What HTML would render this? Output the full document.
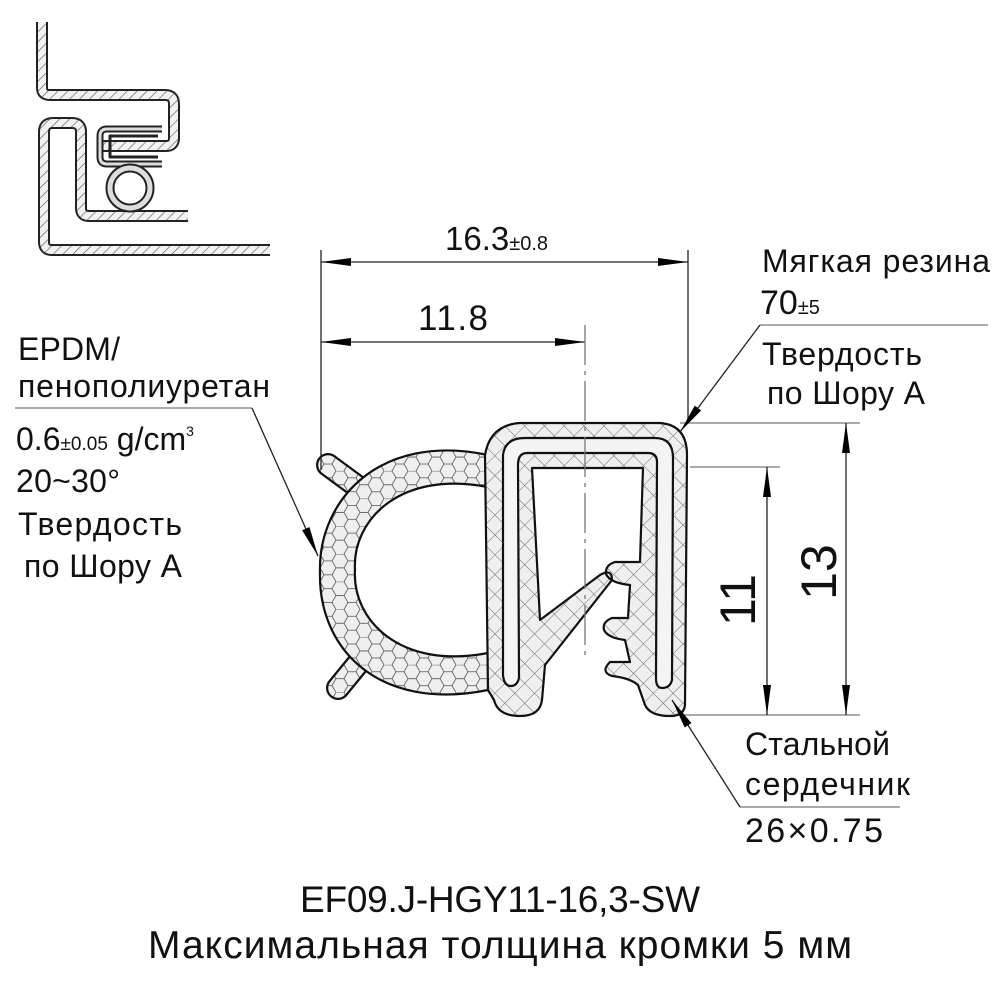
<!DOCTYPE html>
<html><head><meta charset="utf-8"><style>
html,body{margin:0;padding:0;background:#fff;}
svg{display:block;}
text{font-family:"Liberation Sans",sans-serif;fill:#111;}
</style></head><body>
<svg width="1000" height="1000" viewBox="0 0 1000 1000" xmlns="http://www.w3.org/2000/svg">
<defs>
<pattern id="hatch" width="7" height="7" patternUnits="userSpaceOnUse" patternTransform="rotate(45)">
<rect width="7" height="7" fill="#f2f2f2"/><line x1="0" y1="0" x2="0" y2="7" stroke="#555" stroke-width="1.2"/></pattern>
<pattern id="cross" width="14" height="14" patternUnits="userSpaceOnUse" patternTransform="rotate(45)">
<rect width="14" height="14" fill="#efefef"/><path d="M0 0V14M0 0H14" stroke="#666" stroke-width="0.9"/></pattern>
<pattern id="hex" width="24" height="27.7" patternUnits="userSpaceOnUse">
<rect width="24" height="27.7" fill="#efefef"/>
<path d="M0 0L8 0L12 6.9L8 13.85L0 13.85M12 6.9L20 6.9L24 0M20 6.9L24 13.85L20 20.8L12 20.8L8 13.85M20 20.8L24 27.7M12 20.8L8 27.7M0 13.85L-4 20.8" stroke="#666" stroke-width="0.9" fill="none"/></pattern>
<marker id="al" viewBox="0 0 30 10" refX="30" refY="5" markerWidth="30" markerHeight="10" markerUnits="userSpaceOnUse" orient="auto-start-reverse"><path d="M0 1L30 5L0 9Z" fill="#000"/></marker>
</defs>

<!-- small icon -->
<g fill="none" stroke-linejoin="round">
<path d="M42 22V88Q42 95 50 95H165Q174 95 174 104V138Q174 146 166 146H100" stroke="#222" stroke-width="12"/>
<path d="M42 22V88Q42 95 50 95H165Q174 95 174 104V138Q174 146 166 146H100" stroke="url(#hatch)" stroke-width="8"/>
<path d="M270 250H52Q44 250 44 242V132Q44 123 53 123H72Q81 123 81 132V208Q81 216 89 216H188" stroke="#222" stroke-width="12"/>
<path d="M270 250H52Q44 250 44 242V132Q44 123 53 123H72Q81 123 81 132V208Q81 216 89 216H188" stroke="url(#hatch)" stroke-width="8"/>
<path d="M162 129H107Q100 129 100 136V157Q100 164 107 164H162" stroke="#222" stroke-width="7"/>
<path d="M162 129H107Q100 129 100 136V157Q100 164 107 164H162" stroke="#ddd" stroke-width="3"/>
<path d="M158 136H110V157H158" stroke="#222" stroke-width="3"/>
<circle cx="130" cy="188" r="20" stroke="#222" stroke-width="9"/>
<circle cx="130" cy="188" r="20" stroke="#ddd" stroke-width="5"/>
</g>

<!-- main profile -->
<g stroke-linecap="round" fill="none">
<path d="M362 490L328 465" stroke="#111" stroke-width="24"/>
<path d="M362 490L328 465" stroke="url(#hex)" stroke-width="19.5"/>
<path d="M365 655L338 688" stroke="#111" stroke-width="24"/>
<path d="M365 655L338 688" stroke="url(#hex)" stroke-width="19.5"/>
</g>
<g stroke="#111" stroke-width="2.2" stroke-linejoin="round">
<path d="M488 455C380 432 318 500 320 572C318 650 380 712 488 690L488 653C400 670 352 620 355 570C352 520 400 470 488 487Z" fill="url(#hex)"/>
<path d="M485 455Q490 425 520 423L660 423Q687 425 687 455L685 705Q684 716 670 716Q650 716 645 705L638 685Q630 678 612 676Q600 672 610 662L630 662L625 640Q608 638 604 630Q602 622 612 618L628 618L630 585Q610 583 606 574Q605 565 615 562L640 562L643 468L532 468L540 620L600 575Q612 568 612 580L545 665L542 700Q540 716 520 716Q498 716 494 700L488 690Z" fill="url(#cross)"/>
<path d="M503 675L503 455Q505 438 525 438L655 438Q673 438 673 458L672 680Q670 688 662 688Q656 688 656 678L657 462Q657 453 648 453L527 453Q518 453 518 465L519 678Q517 686 511 686Q504 686 503 675Z" fill="#f4f4f4"/>
</g>

<!-- dimension lines -->
<g stroke="#222" stroke-width="1.3" fill="none">
<line x1="321" y1="250" x2="321" y2="470"/>
<line x1="688" y1="250" x2="688" y2="423"/>
<line x1="321" y1="262" x2="688" y2="262" marker-start="url(#al)" marker-end="url(#al)"/>
<line x1="321" y1="342" x2="585" y2="342" marker-start="url(#al)" marker-end="url(#al)"/>
<line x1="585" y1="325" x2="585" y2="660" stroke="#777" stroke-dasharray="40 6 4 6"/>
<line x1="680" y1="423" x2="860" y2="423" stroke="#777"/>
<line x1="690" y1="467" x2="780" y2="467" stroke="#777"/>
<line x1="680" y1="715" x2="860" y2="715" stroke="#777"/>
<line x1="767" y1="467" x2="767" y2="715" marker-start="url(#al)" marker-end="url(#al)"/>
<line x1="846" y1="423" x2="846" y2="715" marker-start="url(#al)" marker-end="url(#al)"/>
<line x1="760" y1="325" x2="988" y2="325" stroke="#777"/>
<line x1="760" y1="325" x2="680" y2="432" marker-end="url(#al)"/>
<line x1="15" y1="408" x2="252" y2="408" stroke="#777"/>
<line x1="252" y1="408" x2="318" y2="556" marker-end="url(#al)"/>
<line x1="740" y1="807" x2="900" y2="807" stroke="#777"/>
<line x1="740" y1="807" x2="672" y2="700" marker-end="url(#al)"/>
</g>

<!-- text -->
<text x="445" y="250" font-size="33">16.3<tspan font-size="20">±0.8</tspan></text>
<text x="418" y="330" font-size="35" textLength="70">11.8</text>
<text transform="translate(755,600) rotate(-90)" font-size="50" text-anchor="middle">11</text>
<text transform="translate(836,572) rotate(-90)" font-size="50" text-anchor="middle">13</text>
<g font-size="32">
<text x="762" y="272" textLength="228">Мягкая резина</text>
<text x="760" y="314" font-size="34">70<tspan font-size="20">±5</tspan></text>
<text x="762" y="365" textLength="160">Твердость</text>
<text x="767" y="404" textLength="158">по Шору А</text>
<text x="18" y="360" textLength="102">EPDM/</text>
<text x="18" y="397" textLength="252">пенополиуретан</text>
<text x="16" y="450" font-size="32">0.6<tspan font-size="19">±0.05</tspan> g/cm<tspan font-size="14" dy="-14">3</tspan></text>
<text x="16" y="492" font-size="32" textLength="104">20~30°</text>
<text x="18" y="535" textLength="164">Твердость</text>
<text x="24" y="577" textLength="158">по Шору А</text>
<text x="745" y="755" textLength="145">Стальной</text>
<text x="745" y="795" textLength="165">сердечник</text>
<text x="745" y="842" font-size="34" textLength="138">26×0.75</text>
<text x="500" y="912" font-size="37" text-anchor="middle" textLength="400">EF09.J-HGY11-16,3-SW</text>
<text x="500" y="958" font-size="39" text-anchor="middle" textLength="704">Максимальная толщина кромки 5 мм</text>
</g>
</svg>
</body></html>
